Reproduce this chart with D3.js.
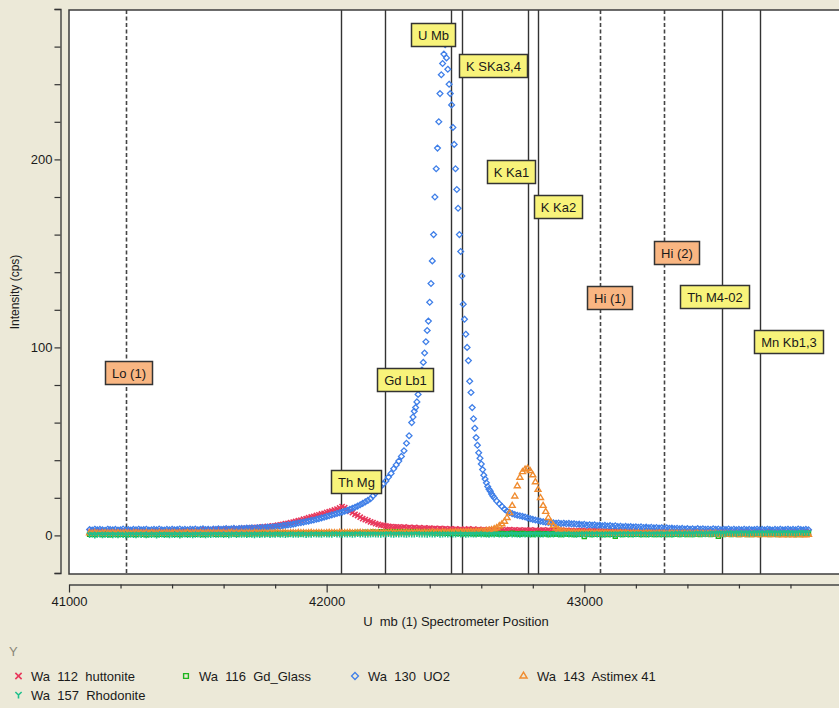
<!DOCTYPE html>
<html>
<head>
<meta charset="utf-8">
<script src="https://cdn.jsdelivr.net/npm/d3@7"></script>
<style>
  html, body { margin: 0; padding: 0; background: #ECE9D8; }
  svg { display: block; }
  text { font-family: "Liberation Sans", Arial, sans-serif; }
  .pre { white-space: pre; }
</style>
</head>
<body>
<svg id="chart" width="839" height="708"></svg>
<script>
// ---- Scan grid (spectrometer positions, 10-step scan) ----
const scanPositions = d3.range(41080, 43871, 10);
// Extra points of the UO2 fine scan across the U Mb peak
const uo2FinePositions = d3.range(42335, 42646, 10);

// ---- Measured intensities (cps), one value per scan position ----
const huttonite = [
  2.0,2.3,1.8,2.1,2.4,1.9,2.2,2.0,1.7,2.2,
  2.1,1.8,2.3,2.0,2.2,1.9,2.4,2.1,1.8,2.2,
  2.3,2.0,2.2,1.9,2.4,2.1,2.3,2.0,2.5,2.2,
  2.4,2.1,2.3,2.6,2.2,2.5,2.3,2.7,2.4,2.6,
  2.5,2.8,2.6,2.9,2.7,3.0,2.8,3.1,2.9,3.2,
  3.0,3.3,3.1,3.4,3.2,3.5,3.3,3.6,3.4,3.7,
  3.6,3.9,3.8,4.1,4.0,4.3,4.2,4.5,4.4,4.8,
  4.7,5.0,5.1,5.4,5.6,5.9,6.2,6.4,6.8,7.1,
  7.4,7.8,8.1,8.6,8.9,9.4,9.8,10.1,10.6,10.9,
  11.4,11.7,12.3,12.6,13.0,13.5,14.0,14.6,15.3,14.8,
  13.9,12.8,12.1,11.2,10.6,9.7,8.9,8.4,7.8,7.2,
  6.8,6.3,5.9,5.5,5.3,5.0,4.8,4.7,4.5,4.6,
  4.4,4.2,4.5,4.1,4.3,4.0,4.2,3.9,4.1,3.8,
  4.0,3.7,3.9,3.6,3.8,3.5,3.7,3.4,3.6,3.3,
  3.5,3.2,3.4,3.1,3.3,3.0,3.2,3.4,3.1,3.3,
  3.0,3.2,2.9,3.1,2.8,3.0,3.2,2.9,3.1,2.8,
  3.0,2.7,2.9,3.1,2.8,3.0,2.7,2.9,2.6,2.8,
  2.7,2.9,2.6,2.8,2.5,2.7,2.9,2.6,2.8,2.5,
  2.7,2.4,2.6,2.8,2.5,2.7,2.4,2.6,2.3,2.5,
  2.4,2.6,2.3,2.5,2.2,2.4,2.6,2.3,2.5,2.2,
  2.4,2.1,2.3,2.5,2.2,2.4,2.1,2.3,2.0,2.2,
  2.1,2.3,2.0,2.2,1.9,2.1,2.3,2.0,2.2,1.9,
  2.1,1.8,2.0,2.2,1.9,2.1,1.8,2.0,1.7,1.9,
  2.1,1.8,2.0,1.7,1.9,2.1,1.8,2.0,1.7,1.9,
  1.8,2.0,1.7,1.9,1.6,1.8,2.0,1.7,1.9,1.6,
  1.8,1.6,1.9,1.7,2.0,1.7,1.9,1.6,1.8,2.0,
  1.7,1.9,1.6,1.8,2.0,1.7,1.9,1.6,1.8,1.7,
  1.9,1.6,1.8,2.0,1.7,1.9,1.6,1.8,2.0,1.7
];

const gdGlass = [
  0.6,0.9,0.4,0.8,1.0,0.5,0.7,0.9,0.3,0.8,
  0.7,0.5,1.0,0.6,0.8,0.4,0.9,0.7,0.5,1.0,
  0.8,0.6,0.3,0.9,0.7,1.0,0.5,0.8,0.6,0.9,
  0.5,0.8,1.0,0.6,0.9,0.4,0.7,1.1,0.6,0.8,
  0.9,0.6,0.8,1.0,0.5,0.9,0.7,1.1,0.8,0.6,
  1.0,0.7,0.9,0.6,1.1,0.8,1.0,0.7,0.9,1.2,
  0.8,1.0,0.7,1.1,0.9,1.2,0.8,1.0,1.1,0.9,
  1.1,0.9,1.2,1.0,0.8,1.1,1.3,0.9,1.0,1.2,
  1.0,1.2,0.9,1.1,1.3,1.0,1.2,1.1,1.4,1.0,
  1.2,1.1,1.3,1.0,1.2,1.4,1.1,1.3,1.2,1.5,
  1.3,1.5,1.2,1.4,1.6,1.3,1.5,1.7,1.4,1.6,
  1.8,1.5,1.7,1.9,1.6,1.8,2.0,1.7,1.9,1.8,
  1.9,1.7,2.0,1.8,1.6,1.9,1.7,1.8,1.5,1.7,
  1.5,1.7,1.4,1.6,1.3,1.5,1.2,1.4,1.3,1.1,
  1.3,1.1,1.2,1.0,1.3,0.9,1.2,1.0,1.1,0.8,
  1.0,0.8,1.1,0.9,0.7,1.0,0.8,1.1,0.9,0.7,
  1.0,0.8,0.6,0.9,1.1,0.7,0.9,0.6,1.0,0.8,
  0.7,0.9,0.5,0.8,1.0,0.6,0.8,0.9,0.5,0.7,
  0.9,0.6,0.8,0.4,0.7,0.9,0.6,0.8,0.5,0.7,
  0.6,0.8,-0.6,0.7,0.9,0.5,0.7,0.6,0.8,0.4,
  0.7,0.5,0.8,0.6,-0.5,0.7,0.9,0.5,0.6,0.8,
  0.5,0.7,0.6,0.8,0.4,0.7,0.5,0.8,0.6,0.4,
  0.7,0.5,0.8,0.6,0.4,0.7,0.5,0.6,0.8,0.5,
  0.6,0.8,0.5,0.7,0.4,0.6,0.8,0.5,0.7,0.6,
  0.8,0.5,0.7,0.6,-0.4,0.7,0.5,0.8,0.6,0.4,
  0.6,0.8,0.5,0.7,0.6,0.4,0.7,0.5,0.8,0.6,
  0.5,0.7,0.6,0.8,0.4,0.6,0.7,0.5,0.8,0.6,
  0.7,0.5,0.8,0.6,0.4,0.7,0.5,0.6,0.8,1.2
];

const uo2 = [
  3.1,2.8,3.3,2.9,3.2,3.0,2.7,3.3,3.1,2.9,
  3.2,2.8,3.0,3.4,2.9,3.1,2.8,3.2,3.0,3.3,
  2.9,3.1,3.3,2.8,3.0,3.2,2.9,3.4,3.0,2.8,
  3.2,3.0,3.3,2.9,3.1,3.4,3.0,3.2,2.9,3.3,
  3.1,3.4,3.0,3.2,3.5,3.1,3.3,3.0,3.4,3.2,
  3.5,3.2,3.4,3.6,3.3,3.5,3.7,3.4,3.6,3.8,
  3.6,3.9,3.7,4.0,3.8,4.1,4.0,4.3,4.1,4.4,
  4.3,4.6,4.5,4.9,4.8,5.2,5.3,5.6,5.7,6.0,
  6.3,6.6,6.8,7.1,7.4,7.6,8.0,8.2,8.6,8.9,
  9.3,9.7,10.1,10.4,10.9,11.2,11.7,12.1,12.4,12.9,
  13.3,13.9,14.4,15.0,15.6,16.3,17.0,17.8,18.6,19.5,
  21.0,22.5,24.3,26.0,27.5,29.0,31.0,33.0,35.5,37.5,
  39.5,42.0,45.0,49.0,53.0,60.0,66.0,71.0,79.0,88.0,
  97,109,124,146,180,206,235,251,261,248,
  235,217,195,174,151,123,107,93,76,62,
  52,44,38,32,28,24.5,22,20,18.3,16.8,
  15.4,14.0,12.9,12.2,11.6,11.1,10.7,10.4,10.1,9.8,
  9.3,8.9,8.5,8.2,7.9,7.5,7.3,7.1,6.9,6.8,
  6.7,6.5,6.6,6.3,6.5,6.2,6.4,6.1,6.2,5.9,
  6.0,5.7,5.9,5.5,5.7,5.4,5.6,5.2,5.5,5.1,
  5.3,5.0,5.2,4.8,5.1,4.7,4.9,4.6,4.8,4.5,
  4.7,4.4,4.6,4.3,4.5,4.2,4.4,4.1,4.3,4.0,
  4.2,3.9,4.1,3.8,4.0,3.7,3.9,3.6,3.8,3.5,
  3.7,3.4,3.6,3.3,3.5,3.2,3.6,3.3,3.5,3.2,
  3.4,3.1,3.5,3.2,3.4,3.0,3.3,3.1,3.4,3.0,
  3.3,3.0,3.2,2.9,3.3,3.0,3.2,2.9,3.1,3.3,
  3.0,3.2,2.9,3.3,3.1,2.8,3.2,3.0,3.3,2.9,
  3.1,3.3,2.9,3.2,3.0,3.4,3.1,2.9,3.2,3.0
];

const uo2Fine = [
  63,68,75,84,92,103,114,134,160,195,
  220,245,256,254,240,229,208,184,160,138,
  115,100,82,68,57,48,41,35,30,26,
  23.5,21
];

const astimex41 = [
  1.4,1.2,1.5,1.3,1.1,1.4,1.6,1.3,1.2,1.5,
  1.3,1.5,1.2,1.4,1.6,1.3,1.1,1.4,1.5,1.2,
  1.4,1.3,1.6,1.2,1.5,1.4,1.3,1.6,1.2,1.4,
  1.5,1.3,1.4,1.6,1.2,1.5,1.3,1.4,1.7,1.3,
  1.4,1.6,1.3,1.5,1.4,1.2,1.6,1.4,1.5,1.3,
  1.5,1.4,1.6,1.3,1.5,1.7,1.4,1.5,1.3,1.6,
  1.4,1.6,1.5,1.3,1.7,1.5,1.4,1.6,1.5,1.3,
  1.6,1.4,1.5,1.7,1.4,1.6,1.5,1.3,1.6,1.5,
  1.4,1.7,1.5,1.6,1.4,1.5,1.7,1.4,1.6,1.5,
  1.6,1.4,1.5,1.7,1.5,1.6,1.4,1.7,1.5,1.6,
  1.5,1.7,1.4,1.6,1.5,1.7,1.6,1.4,1.6,1.5,
  1.7,1.5,1.6,1.4,1.7,1.5,1.6,1.8,1.5,1.6,
  1.5,1.7,1.6,1.8,1.5,1.7,1.6,1.8,1.7,1.6,
  1.8,1.6,1.7,1.9,1.7,1.8,1.6,1.9,1.8,1.7,
  1.9,1.8,2.0,1.8,2.0,1.9,2.1,2.0,2.2,2.1,
  2.3,2.2,2.5,2.4,2.7,2.9,3.2,3.6,4.2,5.2,
  6.2,7.6,9.6,12.2,16.0,21.0,26.5,31.0,34.0,35.3,
  35.8,34.6,32.3,28.6,24.6,20.2,16.0,12.8,9.6,7.2,
  5.4,4.1,3.2,2.6,2.3,2.0,1.9,1.7,1.8,1.6,
  1.7,1.5,1.6,1.4,1.6,1.5,1.3,1.5,1.4,1.6,
  1.4,1.5,1.3,1.5,1.2,1.4,1.5,1.3,1.4,1.2,
  1.3,1.4,1.2,1.4,1.1,1.3,1.4,1.2,1.3,1.1,
  1.2,1.3,1.1,1.3,1.0,1.2,1.3,1.1,1.2,1.0,
  1.1,1.2,1.0,1.2,0.9,1.1,1.2,1.0,1.1,0.9,
  1.0,1.1,0.9,1.1,0.8,1.0,0.7,0.9,0.6,0.8,
  0.6,0.8,0.5,0.7,0.6,0.8,0.5,0.7,0.6,0.5,
  0.7,0.5,0.6,0.8,0.5,0.6,0.7,0.5,0.6,0.4,
  0.6,0.5,0.7,0.4,0.6,0.5,0.7,0.5,0.4,0.6
];

const rhodonite = [
  0.2,0.4,0.0,0.3,0.5,0.1,0.3,0.2,0.4,0.1,
  0.3,0.1,0.4,0.2,0.0,0.3,0.5,0.2,0.1,0.4,
  0.2,0.4,0.1,0.3,0.2,0.5,0.0,0.3,0.4,0.2,
  0.4,0.1,0.3,0.2,0.4,0.0,0.3,0.5,0.2,0.3,
  0.1,0.3,0.5,0.2,0.4,0.1,0.3,0.2,0.5,0.3,
  0.3,0.5,0.2,0.4,0.1,0.3,0.6,0.2,0.4,0.3,
  0.4,0.2,0.5,0.3,0.1,0.4,0.2,0.5,0.3,0.6,
  0.2,0.4,0.3,0.6,0.3,0.5,0.2,0.4,0.6,0.3,
  0.5,0.3,0.6,0.4,0.2,0.5,0.3,0.6,0.4,0.5,
  0.3,0.6,0.4,0.5,0.3,0.7,0.4,0.5,0.3,0.6,
  0.4,0.6,0.3,0.5,0.7,0.4,0.6,0.3,0.5,0.4,
  0.6,0.4,0.5,0.3,0.6,0.4,0.7,0.5,0.3,0.6,
  0.4,0.6,0.5,0.3,0.6,0.4,0.5,0.7,0.4,0.5,
  0.5,0.3,0.6,0.4,0.5,0.7,0.3,0.5,0.6,0.4,
  0.6,0.4,0.5,0.7,0.4,0.6,0.3,0.5,0.6,0.4,
  0.5,0.7,0.4,0.6,0.5,0.3,0.6,0.4,0.7,0.5,
  0.4,0.6,0.5,0.7,0.4,0.6,0.5,0.3,0.6,0.5,
  0.6,0.4,0.7,0.5,0.6,0.4,0.5,0.7,0.4,0.6,
  0.5,0.7,0.4,0.6,0.5,0.7,0.4,0.6,0.5,0.3,
  0.6,0.4,0.7,0.5,0.6,0.4,0.7,0.5,0.6,0.4,
  0.5,0.7,0.5,0.6,0.4,0.7,0.5,0.6,0.8,0.5,
  0.7,0.5,0.6,0.8,0.5,0.7,0.6,0.5,0.7,0.6,
  0.6,0.8,0.5,0.7,0.6,0.8,0.5,0.7,0.9,0.6,
  0.8,0.6,0.9,0.7,0.6,0.8,1.0,0.7,0.8,0.6,
  0.9,0.7,1.0,0.8,1.1,0.9,0.8,1.0,1.2,0.9,
  1.1,0.9,1.2,1.0,1.3,1.1,0.9,1.2,1.0,1.3,
  1.2,1.0,1.3,1.1,1.4,1.2,1.0,1.3,1.1,1.4,
  1.3,1.1,1.4,1.2,1.0,1.3,1.5,1.2,1.4,1.3
];

// ---- Series names (legend) ----
const seriesNames = ["Wa  112  huttonite", "Wa  116  Gd_Glass", "Wa  130  UO2", "Wa  143  Astimex 41", "Wa  157  Rhodonite"];

// ---- Emission lines and background positions ----
const lineNames = ["Lo (1)", "Th Mg", "Gd Lb1", "U Mb", "K SKa3,4", "K Ka1", "K Ka2", "Hi (1)", "Hi (2)", "Th M4-02", "Mn Kb1,3"];
const linePositions = [41221, 42056, 42228, 42481, 42526, 42781, 42820, 43062, 43310, 43534, 43682];
const lineIsBackground = [true, false, false, false, false, false, false, true, true, false, false];
// tag anchors (left edge position, top in cps)
const tagPositions = [41140, 42016, 42196, 42328, 42513, 42621, 42806, 43009, 43271, 43371, 43659];
const tagCps = [93.0, 34.6, 89.2, 272.5, 256.2, 199.8, 180.9, 132.8, 156.5, 133.0, 109.0];

// ---- Axis ticks ----
const yLabelTicks = [0, 100, 200];
const xLabelTicks = [41000, 42000, 43000];

// ---------------------------------------------------------------
const svg = d3.select("#chart");
const plot = { left: 69, right: 842, top: 10, bottom: 574 };

const x = d3.scaleLinear().domain([41000, 44000]).range([plot.left, plot.right]);
const y = d3.scaleLinear().domain([-20, 280]).range([plot.bottom - 1, plot.top - 1]);

// plot background
svg.append("rect")
  .attr("x", plot.left).attr("y", plot.top)
  .attr("width", plot.right - plot.left).attr("height", plot.bottom - plot.top)
  .attr("fill", "#ffffff");

svg.append("defs").append("clipPath").attr("id", "plotClip")
  .append("rect")
  .attr("x", plot.left).attr("y", plot.top)
  .attr("width", plot.right - plot.left).attr("height", plot.bottom - plot.top);

// vertical marker lines
const lineG = svg.append("g").attr("clip-path", "url(#plotClip)");
lineG.selectAll("line")
  .data(linePositions)
  .join("line")
  .attr("x1", d => Math.round(x(d)) + 0.5).attr("x2", d => Math.round(x(d)) + 0.5)
  .attr("y1", plot.top).attr("y2", plot.bottom)
  .attr("stroke", (d, i) => lineIsBackground[i] ? "#444" : "#333")
  .attr("stroke-width", (d, i) => lineIsBackground[i] ? 1.6 : 1.4)
  .attr("stroke-dasharray", (d, i) => lineIsBackground[i] ? "4,2.5" : null);

// marker shapes
const shapes = {
  times: { draw(c) { const r = 2.6; c.moveTo(-r, -r); c.lineTo(r, r); c.moveTo(-r, r); c.lineTo(r, -r); } },
  square: { draw(c) { const r = 2.0; c.moveTo(-r, -r); c.lineTo(r, -r); c.lineTo(r, r); c.lineTo(-r, r); c.closePath(); } },
  diamond: { draw(c) { const r = 2.9; c.moveTo(0, -r); c.lineTo(r, 0); c.lineTo(0, r); c.lineTo(-r, 0); c.closePath(); } },
  triangle: { draw(c) { c.moveTo(0, -2.9); c.lineTo(3.0, 2.1); c.lineTo(-3.0, 2.1); c.closePath(); } },
  wye: { draw(c) { c.moveTo(0, 0); c.lineTo(0, 3.0); c.moveTo(0, 0); c.lineTo(-2.6, -2.5); c.moveTo(0, 0); c.lineTo(2.6, -2.5); } }
};

const series = [
  { values: huttonite, pos: scanPositions, shape: shapes.times, color: "#E8385C", width: 1.6 },
  { values: gdGlass, pos: scanPositions, shape: shapes.square, color: "#1FB51F", width: 1.4 },
  { values: uo2.concat(uo2Fine), pos: scanPositions.concat(uo2FinePositions), shape: shapes.diamond, color: "#3F7FE8", width: 1.3 },
  { values: astimex41, pos: scanPositions, shape: shapes.triangle, color: "#F08C30", width: 1.4 },
  { values: rhodonite, pos: scanPositions, shape: shapes.wye, color: "#1FC08C", width: 1.6 }
];

const dataG = svg.append("g").attr("clip-path", "url(#plotClip)");
series.forEach(s => {
  const sym = d3.symbol().type(s.shape)();
  dataG.append("g")
    .selectAll("path")
    .data(s.values.map((v, i) => [s.pos[i], v]))
    .join("path")
    .attr("transform", d => `translate(${x(d[0]).toFixed(1)},${y(d[1]).toFixed(1)})`)
    .attr("d", sym)
    .attr("fill", "none")
    .attr("stroke", s.color)
    .attr("stroke-width", s.width);
});

// plot frame
svg.append("rect")
  .attr("x", plot.left).attr("y", plot.top)
  .attr("width", plot.right - plot.left).attr("height", plot.bottom - plot.top)
  .attr("fill", "none").attr("stroke", "#3c3c3c").attr("stroke-width", 1.5);

// line tags
const tagG = svg.append("g");
lineNames.forEach((name, i) => {
  const g = tagG.append("g");
  const t = g.append("text")
    .attr("font-size", 13).attr("fill", "#1a1a1a")
    .text(name);
  const w = t.node().getComputedTextLength();
  const left = Math.round(x(tagPositions[i])) + 0.5;
  const top = Math.round(y(tagCps[i])) + 0.5;
  const bw = Math.round(w + 13), bh = 23;
  g.insert("rect", "text")
    .attr("x", left).attr("y", top).attr("width", bw).attr("height", bh)
    .attr("fill", lineIsBackground[i] ? "#F9B682" : "#F8F37A")
    .attr("stroke", "#333").attr("stroke-width", 1.5);
  t.attr("x", left + bw / 2).attr("y", top + 16).attr("text-anchor", "middle");
});

// y axis
const yAxis = d3.axisLeft(y)
  .tickValues(d3.range(-20, 281, 20))
  .tickSize(6).tickPadding(2)
  .tickFormat(d => yLabelTicks.includes(d) ? d : "");
const yg = svg.append("g").attr("transform", "translate(60.5,0)").call(yAxis);
yg.select(".domain").attr("stroke", "#333").attr("stroke-width", 1.3);
yg.selectAll(".tick line").attr("stroke", "#333").attr("stroke-width", 1.2);
yg.selectAll(".tick text").attr("font-size", 13).attr("fill", "#1a1a1a")
  .attr("font-family", "'Liberation Sans', Arial, sans-serif");

// x axis
const xAxis = d3.axisBottom(x)
  .tickValues(d3.range(41000, 44001, 200))
  .tickSize(4).tickSizeOuter(0)
  .tickFormat(d => xLabelTicks.includes(d) ? d : "");
const xg = svg.append("g").attr("transform", "translate(0,584.5)").call(xAxis);
xg.select(".domain").attr("stroke", "#444").attr("stroke-width", 1.3);
xg.selectAll(".tick line")
  .attr("stroke", "#333").attr("stroke-width", 1.2)
  .attr("y2", d => xLabelTicks.includes(d) ? 8 : 4);
xg.selectAll(".tick text")
  .attr("y", 12).attr("font-size", 13).attr("fill", "#1a1a1a")
  .attr("font-family", "'Liberation Sans', Arial, sans-serif");

// axis titles
svg.append("text")
  .attr("transform", "translate(19,292) rotate(-90)")
  .attr("text-anchor", "middle").attr("font-size", 12).attr("fill", "#1a1a1a")
  .text("Intensity (cps)");
svg.append("text")
  .attr("class", "pre")
  .attr("x", 456).attr("y", 626)
  .attr("text-anchor", "middle").attr("font-size", 13).attr("fill", "#1a1a1a")
  .text("U  mb (1) Spectrometer Position");

// legend
svg.append("text")
  .attr("x", 9).attr("y", 656)
  .attr("font-size", 13).attr("fill", "#8B8778")
  .text("Y");

const legendSlots = [[18.5, 676, 31, 681], [186, 676, 199, 681], [355, 676, 368, 681], [523.5, 675.5, 537, 681], [18.5, 695, 31, 700]];
const legendG = svg.append("g");
series.forEach((s, i) => {
  const [mx, my, tx, ty] = legendSlots[i];
  legendG.append("path")
    .attr("transform", `translate(${mx},${my}) scale(1.2)`)
    .attr("d", d3.symbol().type(s.shape)())
    .attr("fill", "none").attr("stroke", s.color).attr("stroke-width", s.width / 1.2);
  legendG.append("text")
    .attr("class", "pre")
    .attr("x", tx).attr("y", ty)
    .attr("font-size", 13).attr("fill", "#1a1a1a")
    .text(seriesNames[i]);
});
</script>
</body>
</html>
